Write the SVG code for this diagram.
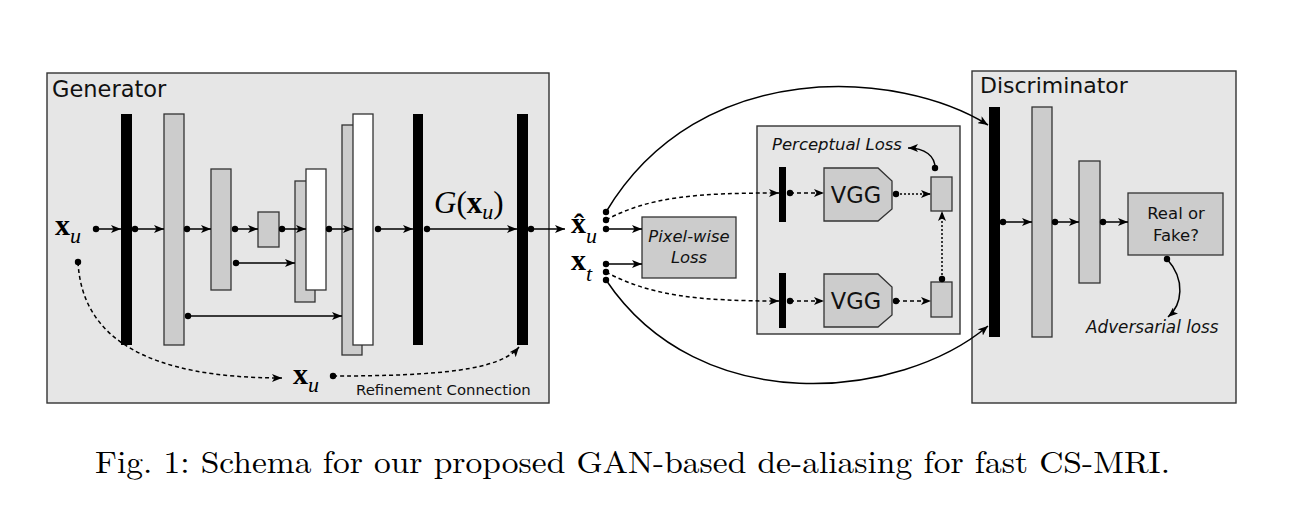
<svg xmlns="http://www.w3.org/2000/svg" width="1308" height="524" viewBox="0 0 1308 524">
<style>
.frame{fill:#e6e6e6;stroke:#333;stroke-width:1.4}
.gray{fill:#cccccc;stroke:#333;stroke-width:1.3}
.white{fill:#ffffff;stroke:#333;stroke-width:1.3}
.black{fill:#000}
.ln{fill:none;stroke:#000;stroke-width:1.5}
.dash{stroke-dasharray:4 3}
.dot{stroke-dasharray:2 2}
.sans{font-family:"DejaVu Sans",sans-serif;fill:#111}
.it{font-style:italic}
.math{font-family:"Liberation Serif","DejaVu Serif",serif;fill:#000}
</style>
<defs>
<marker id="ah" viewBox="0 0 10 8" refX="10" refY="4" markerWidth="10" markerHeight="8" markerUnits="userSpaceOnUse" orient="auto">
<path d="M0,0 L10,4 L0,8 L2.5,4z" fill="#000"/>
</marker>
</defs>
<rect width="1308" height="524" fill="#fff"/>

<g id="generator">
<rect class="frame" x="47" y="73" width="502" height="330"/>
<text class="sans" x="52" y="97" font-size="22.5">Generator</text>
<rect class="black" x="121" y="114" width="11" height="231"/>
<rect class="gray" x="164" y="114" width="20" height="231"/>
<rect class="gray" x="211" y="169" width="20" height="121"/>
<rect class="gray" x="258" y="212" width="21" height="35"/>
<rect class="gray" x="295" y="181" width="20" height="121"/>
<rect class="white" x="306" y="169" width="20" height="121"/>
<rect class="gray" x="342" y="125" width="20" height="230"/>
<rect class="white" x="353" y="114" width="20" height="231"/>
<rect class="black" x="413" y="114" width="10" height="231"/>
<rect class="black" x="517" y="114" width="11" height="231"/>
<text class="math" x="55" y="235" font-size="30" font-weight="bold">x<tspan font-size="22" font-style="italic" font-weight="normal" dy="8">u</tspan></text>
<text class="math" x="434" y="213" font-size="31"><tspan font-style="italic">G</tspan>(<tspan font-weight="bold">x</tspan><tspan font-size="22" font-style="italic" dy="6">u</tspan><tspan dy="-6">)</tspan></text>
<text class="math" x="293" y="384" font-size="30" font-weight="bold">x<tspan font-size="22" font-style="italic" font-weight="normal" dy="8">u</tspan></text>
<text class="sans" x="356" y="395" font-size="14.9">Refinement Connection</text>
</g>

<g id="outputs">
<text class="math" x="571" y="233" font-size="30" font-weight="bold">x̂<tspan font-size="22" font-style="italic" font-weight="normal" dy="10">u</tspan></text>
<text class="math" x="571" y="270" font-size="30" font-weight="bold">x<tspan font-size="22" font-style="italic" font-weight="normal" dy="11">t</tspan></text>
</g>

<g id="pixelwise">
<rect class="gray" x="642" y="217" width="94" height="61"/>
<text class="sans it" x="689" y="242" font-size="16.4" text-anchor="middle">Pixel-wise</text>
<text class="sans it" x="689" y="263" font-size="16.4" text-anchor="middle">Loss</text>
</g>

<g id="perceptual">
<rect class="frame" x="757" y="126" width="203" height="208"/>
<text class="sans it" x="772" y="150" font-size="16.5">Perceptual Loss</text>
<rect class="black" x="779" y="167" width="7" height="55"/>
<rect class="black" x="779" y="273" width="7" height="55"/>
<polygon class="gray" points="824,168 878,168 892,181 892,209 878,221 824,221"/>
<polygon class="gray" points="824,274 878,274 892,287 892,315 878,327 824,327"/>
<text class="sans" x="856" y="203" font-size="22.5" text-anchor="middle">VGG</text>
<text class="sans" x="856" y="309" font-size="22.5" text-anchor="middle">VGG</text>
<rect class="gray" x="931" y="177" width="21" height="34"/>
<rect class="gray" x="931" y="282" width="21" height="35"/>
</g>

<g id="discriminator">
<rect class="frame" x="972" y="71" width="264" height="332"/>
<text class="sans" x="980" y="93" font-size="22">Discriminator</text>
<rect class="black" x="989" y="107" width="11" height="230"/>
<rect class="gray" x="1032" y="107" width="20" height="230"/>
<rect class="gray" x="1079" y="161" width="21" height="122"/>
<rect class="gray" x="1128" y="193" width="95" height="62"/>
<text class="sans" x="1176" y="219" font-size="16.5" text-anchor="middle">Real or</text>
<text class="sans" x="1176" y="241" font-size="16.5" text-anchor="middle">Fake?</text>
<text class="sans it" x="1086" y="333" font-size="16.8">Adversarial loss</text>
</g>

<g id="connectors">
<g class="ln" marker-end="url(#ah)">
<path d="M96,229 H121"/>
<path d="M135,229 H164"/>
<path d="M187,229 H211"/>
<path d="M235,229 H258"/>
<path d="M282,229 H306"/>
<path d="M329,229 H353"/>
<path d="M378,229 H413"/>
<path d="M427,229 H517"/>
<path d="M531,229 H565"/>
<path d="M236,263 H295"/>
<path d="M188,316 H342"/>
<path class="dash" d="M78,262 C82,340 150,378 282,378"/>
<path class="dash" d="M333,376 C440,376 500,370 519,347"/>
<path d="M606,229 H642"/>
<path d="M606,264 H642"/>
<path class="dash" d="M606,220 C650,196 700,193 779,193"/>
<path class="dash" d="M606,272 C650,296 700,301 779,301"/>
<path d="M606,212 C700,55 900,70 988,125"/>
<path d="M606,280 C700,420 900,400 988,326"/>
<path class="dash" d="M790,193 H824"/>
<path class="dot" d="M896,194 H931"/>
<path class="dash" d="M790,301 H824"/>
<path class="dash" d="M896,301 H931"/>
<path class="dot" d="M942,279 V211"/>
<path d="M935,168 C935,156 925,148 908,148"/>
<path d="M1003,222 H1032"/>
<path d="M1055,222 H1079"/>
<path d="M1103,222 H1128"/>
<path d="M1167,259 C1186,280 1182,305 1168,317"/>
</g>
<g fill="#000">
<circle cx="96" cy="229" r="3.2"/><circle cx="135" cy="229" r="3.2"/><circle cx="187" cy="229" r="3.2"/>
<circle cx="235" cy="229" r="3.2"/><circle cx="282" cy="229" r="3.2"/><circle cx="329" cy="229" r="3.2"/>
<circle cx="378" cy="229" r="3.2"/><circle cx="427" cy="229" r="3.2"/><circle cx="531" cy="229" r="3.2"/>
<circle cx="236" cy="263" r="3.2"/><circle cx="188" cy="316" r="3.2"/>
<circle cx="78" cy="262" r="3.2"/><circle cx="333" cy="376" r="3.2"/>
<circle cx="606" cy="212" r="3.2"/><circle cx="606" cy="220" r="3.2"/><circle cx="606" cy="229" r="3.2"/>
<circle cx="606" cy="264" r="3.2"/><circle cx="606" cy="272" r="3.2"/><circle cx="606" cy="280" r="3.2"/>
<circle cx="790" cy="193" r="3.2"/><circle cx="896" cy="194" r="3.2"/>
<circle cx="790" cy="301" r="3.2"/><circle cx="896" cy="301" r="3.2"/>
<circle cx="942" cy="279" r="3.2"/><circle cx="935" cy="168" r="3.2"/>
<circle cx="1003" cy="222" r="3.2"/><circle cx="1055" cy="222" r="3.2"/><circle cx="1103" cy="222" r="3.2"/>
<circle cx="1167" cy="259" r="3.2"/>
</g>
</g>

<text id="caption" x="95" y="473" font-family="'Latin Modern Roman','Liberation Serif',serif" font-size="31" textLength="1075" lengthAdjust="spacingAndGlyphs" fill="#000">Fig. 1: Schema for our proposed GAN-based de-aliasing for fast CS-MRI.</text>
</svg>
